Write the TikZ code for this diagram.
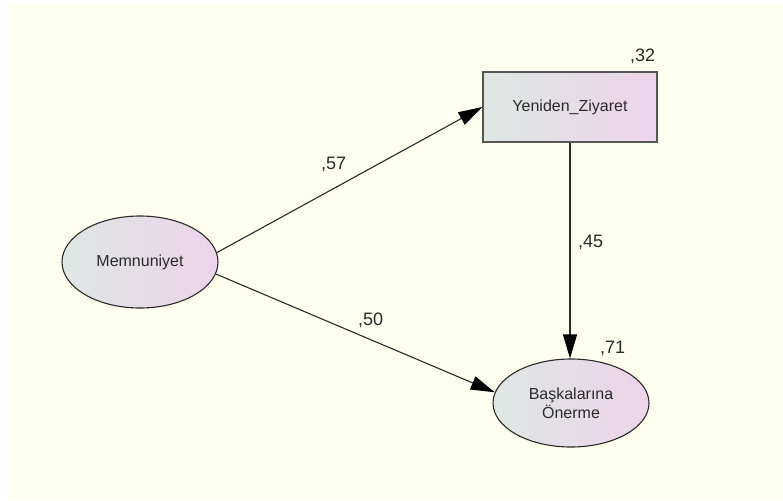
\documentclass[tikz,border=0pt]{standalone}
\usepackage{fontspec}
\setmainfont{Liberation Sans}
\usetikzlibrary{arrows.meta,shapes.geometric}
\definecolor{bgcream}{HTML}{FFFFF0}
\definecolor{fillL}{HTML}{DEE7E4}
\definecolor{fillR}{HTML}{EDD4EA}
\definecolor{ink}{HTML}{2A2A2A}
\definecolor{boxline}{HTML}{555555}
\tikzset{
  latent/.style={ellipse, draw=ink, line width=1.1pt, left color=fillL, right color=fillR,
    inner sep=0pt, align=center, text=ink, font=\fontsize{16}{19}\selectfont},
  observed/.style={rectangle, draw=boxline, line width=1.3pt, left color=fillL, right color=fillR,
    inner sep=0pt, text=ink, font=\fontsize{16}{19}\selectfont},
  path/.style={draw=ink, line width=1.1pt, -{Triangle[length=24pt,width=14pt,color=black]}},
  coef/.style={anchor=base west, inner sep=0pt, text=ink, font=\fontsize{18}{20}\selectfont}
}
\begin{document}
\begin{tikzpicture}[x=1pt,y=-1pt]
\useasboundingbox (0,0) rectangle (783,500);
\fill[bgcream] (8,4) rectangle (783,500);
\node[latent, minimum width=156pt, minimum height=92pt] (mem) at (140,262) {Memnuniyet};
\node[observed, minimum width=174pt, minimum height=70pt] (yz) at (570,107) {Yeniden\_Ziyaret};
\node[latent, minimum width=156pt, minimum height=88pt] (bo) at (571,403) {Başkalarına\\Önerme};
\draw[path] (mem.7.4) -- (yz.west);
\draw[path] (mem.-9.5) -- (bo.172);
\draw[path] (yz.south) -- (yz.south |- bo.north);
\node[coef] (c32) at (630,62) {,32};
\node[coef] (c57) at (321,169) {,57};
\node[coef] (c50) at (358,325) {,50};
\node[coef] (c45) at (578,247) {,45};
\node[coef] (c71) at (600,353) {,71};
\end{tikzpicture}
\end{document}
